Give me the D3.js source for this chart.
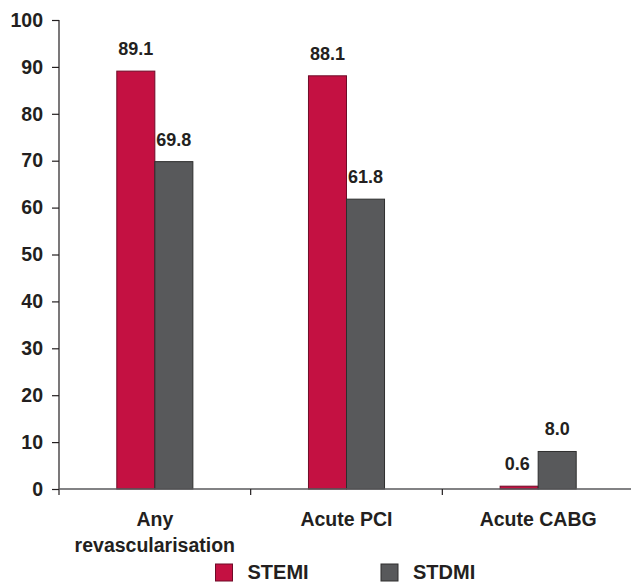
<!DOCTYPE html>
<html><head><meta charset="utf-8">
<script src="https://cdn.jsdelivr.net/npm/d3@7"></script>
<style>body{margin:0;background:#fff}svg{display:block}text{font-family:"Liberation Sans",Arial,sans-serif;font-weight:bold;fill:#231f20}</style>
</head><body>
<svg id="c" width="631" height="584"></svg>
<script>
const categories = [["Any","revascularisation"],["Acute PCI"],["Acute CABG"]];
const seriesNames = ["STEMI","STDMI"];
const stemiValues = [89.1, 88.1, 0.6];
const stdmiValues = [69.8, 61.8, 8.0];
const valueLabels = [["89.1","69.8"],["88.1","61.8"],["0.6","8.0"]];
const yTicks = [0,10,20,30,40,50,60,70,80,90,100];
const colors = ["#c41142","#58595b"];
const strokes = ["#6e0b27","#2e2e2e"];

const svg = d3.select("#c");
const catKeys = categories.map(c => c.join(" "));
const x = d3.scaleBand().domain(catKeys).range([59, 634]).paddingInner(0).paddingOuter(0);
const xs = d3.scaleBand().domain(seriesNames).range([0, x.bandwidth()]).paddingInner(0).paddingOuter(1.52);
const y = d3.scaleLinear().domain([0,100]).range([489, 20]);

// y axis
const ya = svg.append("g").attr("transform","translate(59,0)")
  .call(d3.axisLeft(y).tickValues(yTicks).tickSize(7).tickPadding(9));
ya.select(".domain").remove();
ya.selectAll(".tick line").attr("stroke","#231f20").attr("stroke-width",1.2);
ya.selectAll(".tick text").attr("font-size",19.5).style("font-family","Liberation Sans, Arial, sans-serif").style("font-weight","bold").attr("fill","#231f20");
svg.append("line").attr("x1",59).attr("x2",59).attr("y1",y(100)).attr("y2",495).attr("stroke","#231f20").attr("stroke-width",1.2);

// bars
const data = catKeys.map((k,i) => ({key:k, vals:[stemiValues[i], stdmiValues[i]], labels:valueLabels[i]}));
const g = svg.append("g");
data.forEach(d => {
  seriesNames.forEach((s,j) => {
    const bx = x(d.key) + xs(s);
    g.append("rect").attr("x", bx).attr("y", y(d.vals[j])).attr("width", xs.bandwidth()).attr("height", y(0)-y(d.vals[j]))
      .attr("fill", colors[j]).attr("stroke", strokes[j]).attr("stroke-width",1);
    g.append("text").attr("x", bx + xs.bandwidth()/2 - (d.vals[j] < 2 ? 2 : 0)).attr("y", y(d.vals[j]) - 16)
      .attr("text-anchor","middle").attr("font-size",18).text(d.labels[j]);
  });
});

// x axis
svg.append("line").attr("x1",59).attr("x2",631).attr("y1",y(0)).attr("y2",y(0)).attr("stroke","#58595b").attr("stroke-width",1.5);
catKeys.forEach((k,i) => {
  if (i>0) svg.append("line").attr("x1",x(k)).attr("x2",x(k)).attr("y1",y(0)).attr("y2",495).attr("stroke","#231f20").attr("stroke-width",1.2);
  const t = svg.append("text").attr("x", x(k)+x.bandwidth()/2).attr("y",526).attr("text-anchor","middle").attr("font-size",19.5);
  categories[i].forEach((line,li) => t.append("tspan").attr("x", x(k)+x.bandwidth()/2).attr("dy", li===0?0:26).text(line));
});

// legend
const legX = [215.5, 381];
seriesNames.forEach((s,j) => {
  svg.append("rect").attr("x",legX[j]).attr("y",564).attr("width",17).attr("height",17).attr("fill",colors[j]).attr("stroke",strokes[j]).attr("stroke-width",1);
  svg.append("text").attr("x",legX[j]+32).attr("y",579).attr("font-size",20).text(s);
});
</script>
</body></html>
